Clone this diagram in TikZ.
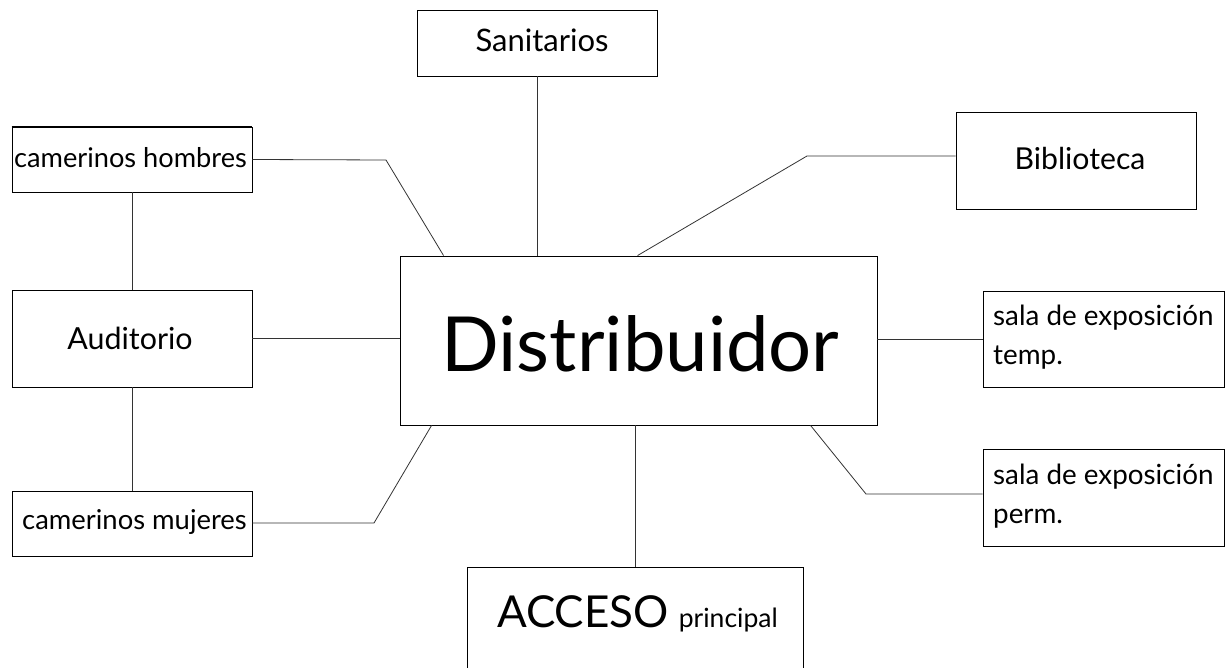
\documentclass[tikz,border=0pt]{standalone}
\usepackage{fontspec}
\setmainfont{Lato}
\newcommand{\fsz}[1]{\fontsize{#1}{#1}\selectfont}
\begin{document}
\begin{tikzpicture}[x=1pt,y=-1pt,
  box/.style={draw, line width=0.9pt, inner sep=0pt, minimum width=#1},
  conn/.style={draw, line width=0.8pt, black!80},
  lbl/.style={inner sep=0pt}]
\useasboundingbox (0,0) rectangle (1229,668);
% boxes
\node[box=240pt, minimum height=66pt] (san) at (537,43) {};
\node[box=240pt, minimum height=65pt] (ch) at (132,159.5) {};
\node[box=240pt, minimum height=97pt] (aud) at (132,338.5) {};
\node[box=240pt, minimum height=65pt] (cm) at (132,523.5) {};
\node[box=477pt, minimum height=169pt] (dist) at (638.5,340.5) {};
\node[box=240pt, minimum height=97pt] (bib) at (1076,160.5) {};
\node[box=241pt, minimum height=96pt] (st) at (1103.5,339) {};
\node[box=241pt, minimum height=97pt] (sp) at (1103.5,497.5) {};
\node[box=336pt, minimum height=105pt] (acc) at (635,619.5) {};
\draw[line width=1.8pt] (ch.north west) -- (ch.north east);
% texts
\node[lbl, anchor=base, font=\fsz{31}] (tsan) at (542,52) {Sanitarios};
\node[lbl, anchor=base west, font=\fsz{27.2}] (tch) at (14,168) {camerinos hombres};
\node[lbl, anchor=base, font=\fsz{30.4}] (taud) at (130,349) {Auditorio};
\node[lbl, anchor=base west, font=\fsz{27.4}] (tcm) at (22,529) {camerinos mujeres};
\node[lbl, anchor=base, font=\fsz{30.2}] (tbib) at (1080,170) {Biblioteca};
\node[lbl, anchor=base west, font=\fsz{27.8}] (tst1) at (993,326) {sala de exposición};
\node[lbl, anchor=base west, font=\fsz{27.8}] (tst2) at (993,364) {temp.};
\node[lbl, anchor=base west, font=\fsz{27.8}] (tsp1) at (993,484) {sala de exposición};
\node[lbl, anchor=base west, font=\fsz{27.8}] (tsp2) at (993,523) {perm.};
\node[lbl, anchor=base, font=\fsz{76}] (tdist) at (640.5,371) {Distribuidor};
\node[lbl, anchor=base west] (tacc) at (497,627) {\fsz{44}ACCESO\hspace{10pt}\fsz{26.5}principal};
% bend points
\coordinate (b1) at (386,160);
\coordinate (b2) at (807,156);
\coordinate (b3) at (374,523);
\coordinate (b4) at (866,494);
% connectors
\draw[conn] (san.south) -- (san.south |- dist.north);
\draw[conn] (ch.east) -- (b1) -- ([xshift=44pt]dist.north west);
\draw[conn] ([xshift=238pt]dist.north west) -- (b2) -- (bib.west |- b2);
\draw[conn] (aud.east) -- (aud.east -| dist.west);
\draw[conn] (ch.south) -- (aud.north);
\draw[conn] (aud.south) -- (cm.north);
\draw[conn] (cm.east |- b3) -- (b3) -- ([xshift=32pt]dist.south west);
\draw[conn] (dist.east |- st.west) -- (st.west);
\draw[conn] ([xshift=411pt]dist.south west) -- (b4) -- (sp.west |- b4);
\draw[conn] (acc.north) -- (acc.north |- dist.south);
\end{tikzpicture}
\end{document}
